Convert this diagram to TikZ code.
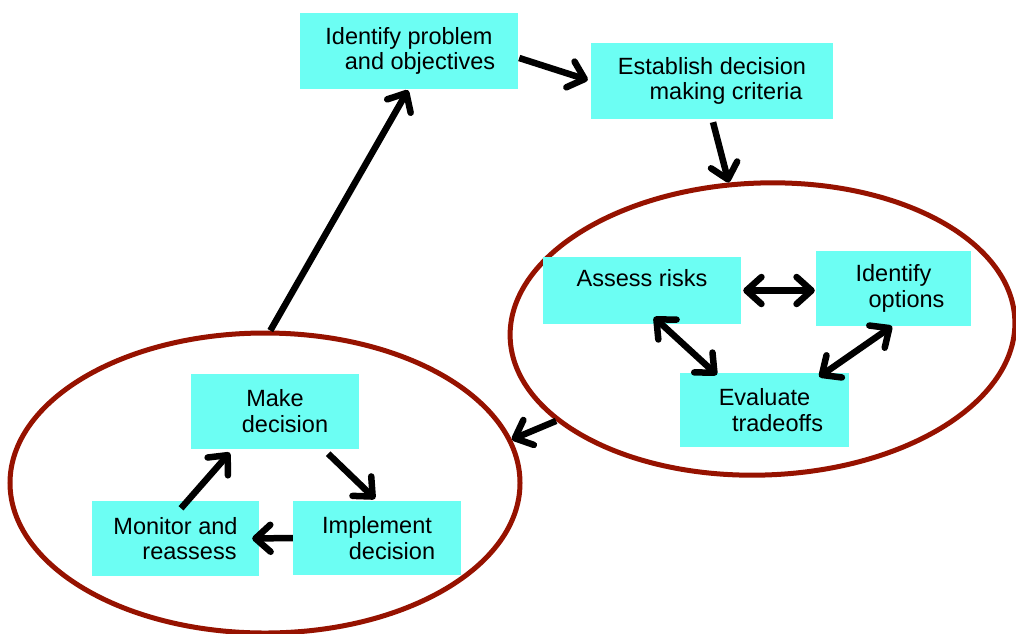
\documentclass[tikz,border=0pt]{standalone}
\usepackage{fontspec}
\setmainfont{Liberation Sans}
\usetikzlibrary{arrows.meta,shapes.geometric}
\definecolor{boxc}{HTML}{6CFEF3}
\definecolor{ellc}{HTML}{961200}
\begin{document}
\begin{tikzpicture}[x=1pt,y=-1pt,
  box/.style={fill=boxc, draw=none, inner sep=0pt, align=center,
    font=\fontsize{23.5}{25.5}\selectfont},
  ell/.style={draw=ellc, line width=5pt, ellipse, inner sep=0pt},
  tipb/.tip={Straight Barb[length=15pt,width=27pt,round]},
  arr/.style={line width=6.5pt, -tipb},
  darr/.style={line width=6.5pt, tipb-tipb}]
\useasboundingbox (0,0) rectangle (1016,633);
% ellipses
\node[ell, minimum width=505pt, minimum height=292pt, rotate=2] (rell) at (762.5,329) {};
\node[ell, minimum width=510pt, minimum height=300pt] (lell) at (265,483) {};
% boxes
\node[box, minimum width=218pt, minimum height=76pt] (idp) at (409,51) {Identify problem\\ \hspace*{22pt}and objectives};
\node[box, minimum width=242pt, minimum height=76pt] (edc) at (712,81) {Establish decision\\ \hspace*{28pt}making criteria};
\node[box, minimum width=198pt, minimum height=67pt] (ar) at (642,290.5) {Assess risks\\ \mbox{}};
\node[box, minimum width=155pt, minimum height=75pt] (io) at (893.5,288.5) {Identify\\ \hspace*{26pt}options};
\node[box, minimum width=169pt, minimum height=74pt] (evt) at (764.5,410) {Evaluate\\ \hspace*{26pt}tradeoffs};
\node[box, minimum width=168pt, minimum height=75pt] (md) at (275,411) {Make\\ \hspace*{20pt}decision};
\node[box, minimum width=167pt, minimum height=75pt] (mon) at (175.5,538.5) {Monitor and\\ \hspace*{28pt}reassess};
\node[box, minimum width=168pt, minimum height=74pt] (imp) at (377,538) {Implement\\ \hspace*{30pt}decision};
% connectors
\draw[arr] ([shift={(1,7)}]idp.east) -- ([shift={(-3,-1)}]edc.west);
\draw[arr] ([shift={(1,3)}]edc.south) -- (rell.101);
\draw[arr] (lell.88) -- ([shift={(-1,1)}]idp.south);
\draw[arr] (rell.202) -- (lell.10);
\draw[darr] ([xshift=2pt]ar.east) -- ([xshift=-1pt]io.west |- ar.east);
\draw[darr] ([shift={(12,-7)}]ar.south) -- ([shift={(37,2)}]evt.north west);
\draw[darr] ([shift={(-1.5,0)}]io.south) -- ([shift={(-30,4)}]evt.north east);
\draw[arr] ([shift={(-31,5)}]md.south east) -- ([shift={(-2,-2)}]imp.north);
\draw[arr] ([shift={(5.5,7.5)}]mon.north) -- ([shift={(39,4)}]md.south west);
\draw[arr] (imp.west) -- ([xshift=-7pt]mon.east);
\end{tikzpicture}
\end{document}
